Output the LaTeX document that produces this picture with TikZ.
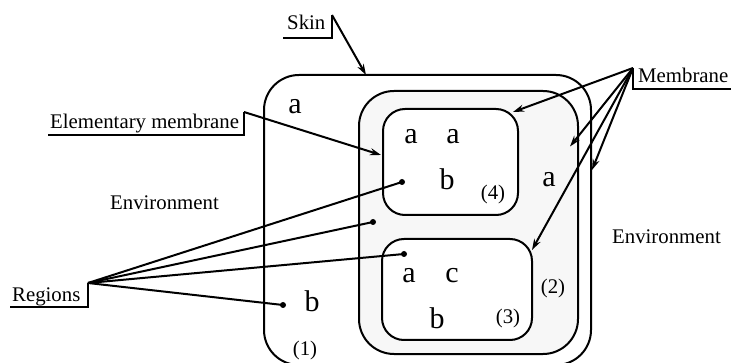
\documentclass[tikz,border=0pt]{standalone}
\usepackage{fontspec}
\setmainfont{Liberation Serif}
\usetikzlibrary{arrows.meta,calc}
\begin{document}
\begin{tikzpicture}[x=1pt,y=-1pt,
  membrane/.style={draw,line width=2pt,rounded corners=#1,inner sep=0pt,outer sep=0pt},
  label/.style={font=\fontsize{20.8}{24}\selectfont,inner sep=0pt,anchor=base west},
  sym/.style={font=\fontsize{30}{36}\selectfont,inner sep=0pt},
  idx/.style={font=\fontsize{20.8}{24}\selectfont,inner sep=0pt},
  leader/.style={line width=2pt},
  pointer/.style={line width=2pt,-{Stealth[length=11pt,width=7pt]}},
  dot/.style={circle,fill,inner sep=0pt,minimum size=6pt}]
\useasboundingbox (0,0) rectangle (731,363);

% membranes
\node[membrane=35pt,minimum width=327pt,minimum height=290pt] (skin) at (427.5,220) {};
\node[membrane=35pt,fill=black!3,minimum width=219pt,minimum height=263pt] (mid) at (468.5,222.5) {};
\node[membrane=22pt,fill=white,minimum width=135pt,minimum height=106pt] (four) at (450.5,162) {};
\node[membrane=22pt,fill=white,minimum width=150pt,minimum height=101pt] (three) at (457,289.5) {};

% objects and labels of the regions
\node[sym] (a1) at (295,107) {a};
\node[sym] (b1) at (312,301) {b};
\node[idx] (n1) at (305,350) {(1)};
\node[sym] (a2) at (549,180) {a};
\node[idx] (n2) at (553,288) {(2)};
\node[sym] (a4) at (411,137) {a};
\node[sym] (a4b) at (453,137) {a};
\node[sym] (b4) at (447,179) {b};
\node[idx] (n4) at (493,195) {(4)};
\node[sym] (a3) at (409,276) {a};
\node[sym] (c3) at (452,276) {c};
\node[sym] (b3) at (437,318) {b};
\node[idx] (n3) at (508,318) {(3)};

\node[label] (envl) at (110,210) {Environment};
\node[label] (envr) at (612,244) {Environment};

% Skin
\node[label] (skinlbl) at (287,30) {Skin};
\coordinate (skinc) at (332,15);
\draw[leader] (283,38) -- (332,38) -- (skinc);
\draw[pointer] (skinc) -- ($(skin.north west)+(102,0)$);

% Elementary membrane
\node[label] (elem) at (50,129) {Elementary membrane};
\coordinate (elemc) at (244,112);
\draw[leader] (48,135) -- (244,135) -- (elemc);
\draw[pointer] (elemc) -- ($(four.west)+(-2,-7)$);

% Membrane
\node[label] (memb) at (638,83) {Membrane};
\coordinate (membc) at (633,68);
\draw[leader] (731,89) -- (633,89) -- (membc);
\draw[pointer] (membc) -- ($(four.north east)+(-5,3)$);
\draw[pointer] (membc) -- ($(mid.east)+(-8,-76)$);
\draw[pointer] (membc) -- ($(skin.east)+(1,-50)$);
\draw[pointer] (membc) -- ($(three.north east)+(0,11)$);

% Regions
\node[label] (reg) at (12,302) {Regions};
\coordinate (regc) at (88,283);
\draw[leader] (10,307) -- (88,307) -- (regc);
\node[dot] (d4) at (402,182) {};
\node[dot] (d2) at (373,222) {};
\node[dot] (d3) at (404,254) {};
\node[dot] (d1) at (283,305) {};
\draw[leader] (regc) -- (d4.center);
\draw[leader] (regc) -- (d2.center);
\draw[leader] (regc) -- (d3.center);
\draw[leader] (regc) -- (d1.center);
\end{tikzpicture}
\end{document}
